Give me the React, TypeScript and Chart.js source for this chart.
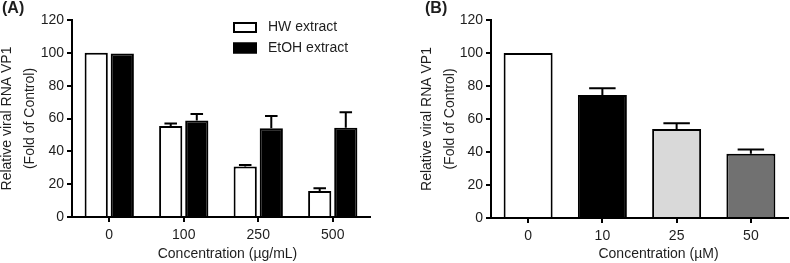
import React, { useEffect, useRef } from "react";
import { Chart, registerables } from "chart.js";

Chart.register(...registerables);

// ---------- data ----------
const categoriesA = ["0", "100", "250", "500"];
const hwValues = [100, 55.5, 30.8, 15.8];
const hwErrors = [0, 1.5, 0.8, 1.7];
const etohValues = [99.6, 58.8, 54.0, 54.3];
const etohErrors = [0, 4.0, 7.5, 9.5];

const categoriesB = ["0", "10", "25", "50"];
const bValues = [100, 74.6, 54.0, 38.9];
const bErrors = [0, 4.0, 3.5, 2.6];
const bColors = ["#ffffff", "#000000", "#d9d9d9", "#717171"];

const yMin = 0;
const yMax = 120;
const yStep = 20;

const yTitleLines = ["Relative viral RNA VP1", "(Fold of Control)"];
const xTitleA = "Concentration (\u00b5g/mL)";
const xTitleB = "Concentration (\u00b5M)";

const FONT = "'Liberation Sans', Arial, Helvetica, sans-serif";
const TEXT = "#1e1e1e";

// ---------- plugins ----------
const errorBarPlugin = {
  id: "errorBars",
  afterDatasetsDraw(chart: any) {
    const ctx = chart.ctx;
    const yScale = chart.scales.y;
    chart.data.datasets.forEach((ds: any, di: number) => {
      const errs = ds.errors;
      if (!errs) return;
      const meta = chart.getDatasetMeta(di);
      meta.data.forEach((bar: any, i: number) => {
        const e = errs[i];
        if (!e) return;
        const v = ds.data[i];
        const top = yScale.getPixelForValue(v + e);
        const p = bar.getProps(["x", "y", "width"], true);
        const half = p.width * 0.27;
        ctx.save();
        ctx.strokeStyle = "#000";
        ctx.lineWidth = 2;
        ctx.beginPath();
        ctx.moveTo(p.x, p.y);
        ctx.lineTo(p.x, top);
        ctx.moveTo(p.x - half, top);
        ctx.lineTo(p.x + half, top);
        ctx.stroke();
        ctx.restore();
      });
    });
  },
};

const boxLegendPlugin = {
  id: "boxLegend",
  afterDraw(chart: any, _args: any, opts: any) {
    if (!opts || !opts.display) return;
    const ctx = chart.ctx;
    chart.data.datasets.forEach((ds: any, i: number) => {
      const top = opts.y + i * opts.rowGap;
      ctx.save();
      ctx.fillStyle = ds.backgroundColor;
      ctx.fillRect(opts.x, top, opts.boxWidth, opts.boxHeight);
      ctx.strokeStyle = "#000";
      ctx.lineWidth = 2;
      ctx.strokeRect(opts.x + 1, top + 1, opts.boxWidth - 2, opts.boxHeight - 2);
      ctx.fillStyle = TEXT;
      ctx.font = `14px ${FONT}`;
      ctx.textBaseline = "middle";
      ctx.textAlign = "left";
      ctx.fillText(ds.label, opts.x + opts.boxWidth + opts.gap, top + opts.boxHeight / 2);
      ctx.restore();
    });
  },
};

const xTitlePlugin = {
  id: "xTitle",
  afterDraw(chart: any, _args: any, opts: any) {
    if (!opts || !opts.text) return;
    const { ctx, chartArea } = chart;
    ctx.save();
    ctx.font = `14px ${FONT}`;
    ctx.fillStyle = TEXT;
    ctx.textAlign = "center";
    ctx.textBaseline = "alphabetic";
    ctx.fillText(opts.text, (chartArea.left + chartArea.right) / 2 + opts.dx, opts.baseline);
    ctx.restore();
  },
};

// ---------- scale builders ----------
function yScaleOptions(width: number) {
  return {
    min: yMin,
    max: yMax,
    ticks: { stepSize: yStep, padding: 3, color: TEXT, font: { size: 14, family: FONT } },
    grid: { drawOnChartArea: false, drawTicks: true, tickLength: 5, color: "#000", lineWidth: 2 },
    border: { display: true, color: "#000", width: 2 },
    title: {
      display: true,
      text: yTitleLines,
      color: TEXT,
      font: { size: 14, family: FONT, lineHeight: 1.64 },
      padding: { top: -4.5, bottom: 0 },
    },
    afterFit: (s: any) => {
      s.width = width;
    },
  };
}

function xScaleOptions(height: number) {
  return {
    type: "category",
    offset: true,
    ticks: { padding: 5, color: TEXT, font: { size: 14, family: FONT } },
    grid: { offset: false, drawOnChartArea: false, drawTicks: true, tickLength: 5, color: "#000", lineWidth: 2 },
    border: { display: true, color: "#000", width: 2 },
    afterFit: (s: any) => {
      s.height = height;
    },
  };
}

function useChart(ref: React.RefObject<HTMLCanvasElement>, build: () => any) {
  useEffect(() => {
    if (!ref.current) return;
    const chart = new Chart(ref.current, build());
    return () => chart.destroy();
  }, []);
}

export default function App() {
  const refA = useRef<HTMLCanvasElement>(null);
  const refB = useRef<HTMLCanvasElement>(null);

  useChart(refA, () => ({
    type: "bar",
    data: {
      labels: categoriesA,
      datasets: [
        {
          label: "HW extract",
          data: hwValues,
          errors: hwErrors,
          backgroundColor: "#ffffff",
          borderColor: "#000",
          borderWidth: 2,
          borderSkipped: "start",
          categoryPercentage: 0.7,
          barPercentage: 0.89,
        },
        {
          label: "EtOH extract",
          data: etohValues,
          errors: etohErrors,
          backgroundColor: "#000000",
          borderColor: "#000",
          borderWidth: 2,
          borderSkipped: "start",
          categoryPercentage: 0.7,
          barPercentage: 0.89,
        },
      ],
    },
    options: {
      responsive: false,
      animation: false,
      layout: { padding: { left: 0, top: 20, right: 25, bottom: 0 } },
      scales: { x: xScaleOptions(46), y: yScaleOptions(72) },
      plugins: {
        legend: { display: false },
        tooltip: { enabled: false },
        boxLegend: { display: true, x: 233, y: 22, rowGap: 20.5, boxWidth: 24, boxHeight: 11, gap: 11 },
        xTitle: { text: xTitleA, dx: 6.5, baseline: 258 },
      },
    },
    plugins: [errorBarPlugin, boxLegendPlugin, xTitlePlugin],
  }));

  useChart(refB, () => ({
    type: "bar",
    data: {
      labels: categoriesB,
      datasets: [
        {
          label: "Compound",
          data: bValues,
          errors: bErrors,
          backgroundColor: bColors,
          borderColor: "#000",
          borderWidth: 2,
          borderSkipped: "start",
          categoryPercentage: 0.8,
          barPercentage: 0.825,
        },
      ],
    },
    options: {
      responsive: false,
      animation: false,
      layout: { padding: { left: 25, top: 20, right: 2, bottom: 0 } },
      scales: { x: xScaleOptions(45), y: yScaleOptions(71) },
      plugins: {
        legend: { display: false },
        tooltip: { enabled: false },
        xTitle: { text: xTitleB, dx: 19, baseline: 258 },
      },
    },
    plugins: [errorBarPlugin, xTitlePlugin],
  }));

  const labelStyle: React.CSSProperties = {
    position: "absolute",
    top: 0,
    fontFamily: FONT,
    fontWeight: "bold",
    fontSize: 16,
    lineHeight: "16px",
    color: TEXT,
  };

  return (
    <div style={{ position: "absolute", left: 0, top: 0, width: 790, height: 263, background: "#fff", overflow: "hidden" }}>
      <canvas ref={refA} width={395} height={263} style={{ position: "absolute", left: 0, top: 0, display: "block" }} />
      <canvas ref={refB} width={395} height={263} style={{ position: "absolute", left: 395, top: 0, display: "block" }} />
      <div style={{ ...labelStyle, left: 2 }}>(A)</div>
      <div style={{ ...labelStyle, left: 425 }}>(B)</div>
    </div>
  );
}
